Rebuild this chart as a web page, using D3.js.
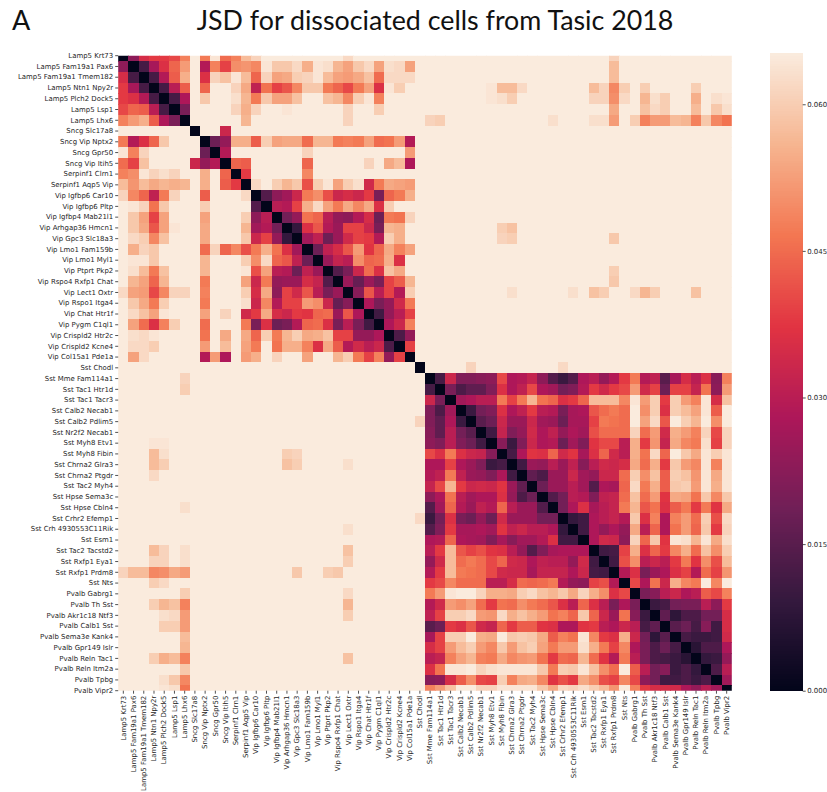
<!DOCTYPE html>
<html>
<head>
<meta charset="utf-8">
<script src="https://cdn.jsdelivr.net/npm/d3@7/dist/d3.min.js"></script>
<style>
html,body{margin:0;padding:0;background:#fff;}
svg{display:block;}
text{font-family:"DejaVu Sans",sans-serif;}
</style>
</head>
<body>
<svg id="chart" width="827" height="792"></svg>
<script>
const categories = ["Lamp5 Krt73","Lamp5 Fam19a1 Pax6","Lamp5 Fam19a1 Tmem182","Lamp5 Ntn1 Npy2r","Lamp5 Plch2 Dock5","Lamp5 Lsp1","Lamp5 Lhx6","Sncg Slc17a8","Sncg Vip Nptx2","Sncg Gpr50","Sncg Vip Itih5","Serpinf1 Clrn1","Serpinf1 Aqp5 Vip","Vip Igfbp6 Car10","Vip Igfbp6 Pltp","Vip Igfbp4 Mab21l1","Vip Arhgap36 Hmcn1","Vip Gpc3 Slc18a3","Vip Lmo1 Fam159b","Vip Lmo1 Myl1","Vip Ptprt Pkp2","Vip Rspo4 Rxfp1 Chat","Vip Lect1 Oxtr","Vip Rspo1 Itga4","Vip Chat Htr1f","Vip Pygm C1ql1","Vip Crispld2 Htr2c","Vip Crispld2 Kcne4","Vip Col15a1 Pde1a","Sst Chodl","Sst Mme Fam114a1","Sst Tac1 Htr1d","Sst Tac1 Tacr3","Sst Calb2 Necab1","Sst Calb2 Pdlim5","Sst Nr2f2 Necab1","Sst Myh8 Etv1 ","Sst Myh8 Fibin","Sst Chrna2 Glra3","Sst Chrna2 Ptgdr","Sst Tac2 Myh4","Sst Hpse Sema3c","Sst Hpse Cbln4","Sst Crhr2 Efemp1","Sst Crh 4930553C11Rik ","Sst Esm1","Sst Tac2 Tacstd2","Sst Rxfp1 Eya1","Sst Rxfp1 Prdm8","Sst Nts","Pvalb Gabrg1","Pvalb Th Sst","Pvalb Akr1c18 Ntf3","Pvalb Calb1 Sst","Pvalb Sema3e Kank4","Pvalb Gpr149 Islr","Pvalb Reln Tac1","Pvalb Reln Itm2a","Pvalb Tpbg","Pvalb Vipr2"];

// JSD x 1000. Upper triangle of the first 30 types, each row starts right after its diagonal.
const upperFirstBlock = [
[23,35,38,38,40,48,65,47,64,45,48,57,61,65,65,65,65,65,65,65,65,62,65,65,65,65,65,65,65],
[12,27,36,44,52,65,29,48,39,50,51,49,64,59,59,62,55,64,63,56,53,59,62,53,63,62,53,65],
[12,29,43,55,65,36,61,58,64,57,44,61,53,54,60,61,64,57,53,52,54,58,45,62,62,62,65],
[12,30,43,65,44,65,65,61,54,31,46,39,42,49,59,59,47,44,40,47,53,36,64,60,65,65],
[12,28,65,59,65,65,63,56,47,59,53,53,58,65,65,58,56,49,60,64,48,65,65,65,65],
[20,65,65,65,65,61,55,61,65,65,64,65,65,65,65,65,61,65,65,60,65,65,65,65],
[65,65,65,65,65,56,65,65,65,65,65,65,65,65,65,61,65,65,65,65,65,65,65],
[65,65,33,65,65,65,65,65,65,65,65,65,65,65,65,65,65,65,65,65,65,65],
[18,24,55,55,43,60,53,54,54,45,56,56,47,48,47,53,45,46,52,29,65],
[29,65,65,65,65,65,65,65,61,65,65,65,65,65,65,65,65,65,52,65],
[44,43,65,65,65,65,65,44,65,65,65,65,65,61,65,54,57,28,65],
[38,65,65,65,65,65,49,65,65,65,65,65,65,65,65,65,65,65],
[62,65,60,56,59,41,60,64,53,60,63,34,47,54,53,52,65],
[14,23,26,33,47,50,41,33,35,33,38,20,44,47,55,65],
[30,29,39,55,62,53,47,54,49,54,36,60,65,65,65],
[19,24,46,44,30,24,23,29,35,18,47,46,61,65],
[9,36,42,29,25,39,39,33,20,56,55,65,65],
[26,31,18,25,34,39,38,29,60,55,65,65],
[18,31,35,42,52,37,44,54,48,53,65],
[25,32,30,50,44,45,55,36,65,65],
[14,20,33,45,36,58,54,65,65],
[25,17,25,20,39,43,56,65],
[22,42,30,39,29,60,65],
[28,20,24,34,47,65],
[11,24,30,39,65],
[28,33,48,65],
[13,24,65],
[39,65],
[65]
];

// Same for the last 30 types (Sst Mme Fam114a1 onward).
const upperSecondBlock = [
[12,33,21,21,22,23,40,28,29,32,23,14,10,14,28,30,24,29,38,47,29,31,15,27,35,30,36,22,48],
[20,13,16,16,21,36,28,31,40,28,26,19,21,29,38,34,38,40,52,34,39,18,39,39,32,46,23,52],
[26,28,30,30,47,39,47,56,46,44,36,38,44,57,57,57,49,64,52,60,38,60,52,48,64,35,58],
[10,19,21,36,28,31,38,30,29,20,27,28,42,45,47,45,65,50,60,36,60,57,53,64,43,65],
[15,18,33,25,25,33,26,25,18,27,27,39,47,46,45,65,53,62,42,65,60,56,65,50,65],
[11,32,21,24,34,28,31,24,28,26,41,45,45,45,61,45,52,34,55,52,48,61,40,61],
[22,10,21,33,28,29,18,26,21,37,40,40,30,55,38,51,32,54,49,47,63,39,61],
[12,28,37,36,44,34,37,27,36,44,34,30,55,46,62,44,65,59,54,64,60,64],
[11,25,24,30,25,31,22,30,34,33,35,54,45,55,38,59,52,49,64,48,64],
[16,13,25,25,33,26,24,33,33,45,60,50,58,43,60,58,51,64,54,64],
[18,25,25,30,26,14,28,27,44,62,47,55,43,59,60,52,64,55,64],
[14,19,30,29,21,31,32,45,58,45,52,37,54,53,46,59,49,59],
[19,28,36,27,30,32,47,56,42,46,36,43,47,38,47,37,54],
[9,11,28,30,32,29,59,36,48,28,48,52,45,60,41,62],
[11,28,24,28,24,54,30,44,28,46,52,44,59,38,61],
[28,34,33,23,61,44,59,37,64,63,56,64,54,63],
[11,12,39,55,36,44,38,49,55,45,58,50,60],
[11,41,50,30,33,30,38,47,37,50,41,57],
[29,36,20,25,28,36,39,29,45,39,51],
[40,28,46,33,55,49,47,65,49,65],
[20,22,30,33,28,30,43,40,48],
[10,12,19,20,20,30,23,38],
[16,8,13,13,19,19,35],
[15,18,12,22,11,35],
[12,10,10,11,34],
[7,13,13,28],
[9,10,24],
[13,30],
[26]
];

// Between the two blocks almost everything sits at the top of the scale; the exceptions:
const crossFrom = [29,29,30,31,36,36,37,37,38,38,39,42,46,46,46,47,47,47,48,48,48,48,48,48,48,49,49,50,51,51,51,51,52,52,52,53,53,53,54,55,56,56,56,56,57,58,58,58,59,59,59,37,37,38,38,38,44,46,47,48,48,48,51,56,22,22,22,22];
const crossTo   = [34,43,6,6,3,4,3,4,3,4,3,6,3,4,6,3,4,6,0,1,2,3,4,5,6,3,4,6,3,4,5,6,4,5,6,4,5,6,6,6,3,4,5,6,6,4,5,6,4,5,6,16,17,16,17,22,22,22,22,17,20,21,22,22,50,44,38,52];
const crossVal  = [61,62,61,60,64,64,57,63,57,60,62,63,57,61,63,61,61,63,61,57,57,49,50,54,52,60,62,60,60,56,58,48,63,62,52,60,60,52,57,56,60,55,57,48,59,63,59,49,64,63,46,60,61,58,60,64,63,58,60,59,60,59,56,58,62,63,63,60];

const saturated = 65;
const tickValues = [0, 0.015, 0.03, 0.045, 0.06];
const rocketStops = ["#03051a","#35193e","#701f57","#ad1759","#e13342","#f37651","#f6b48f","#faebdd"];
const titleText = "JSD for dissociated cells from Tasic 2018";
const panelText = "A";

const n = categories.length;
const matrix = d3.range(n).map(i => d3.range(n).map(j => i === j ? 0 : saturated));
upperFirstBlock.forEach((row, i) => row.forEach((v, k) => {
  const j = i + 1 + k;
  matrix[i][j] = v; matrix[j][i] = v;
}));
upperSecondBlock.forEach((row, i) => row.forEach((v, k) => {
  const a = 30 + i, b = a + 1 + k;
  matrix[a][b] = v; matrix[b][a] = v;
}));
crossFrom.forEach((a, i) => {
  matrix[a][crossTo[i]] = crossVal[i]; matrix[crossTo[i]][a] = crossVal[i];
});
const cells = [];
matrix.forEach((row, i) => row.forEach((v, j) => cells.push({i, j, v: v / 1000})));

const L = 118.2, R = 731.8, T = 55.7, B = 690.7;
const vmax = 0.06497;
const svg = d3.select("#chart");

const x = d3.scaleBand().domain(d3.range(n)).range([L, R]).paddingInner(0).paddingOuter(0);
const rowStep = (B - T) / (n - 1);
const y = d3.scaleBand().domain(d3.range(n)).range([T - rowStep / 2, B + rowStep / 2]);
const color = d3.scaleLinear()
  .domain(rocketStops.map((_, i) => vmax * i / (rocketStops.length - 1)))
  .range(rocketStops).interpolate(d3.interpolateRgb).clamp(true);

svg.append("defs").append("clipPath").attr("id", "plot")
  .append("rect").attr("x", L).attr("y", T).attr("width", R - L).attr("height", B - T);

svg.append("g").attr("clip-path", "url(#plot)").attr("shape-rendering", "crispEdges")
  .selectAll("rect").data(cells).join("rect")
  .attr("x", d => x(d.j)).attr("y", d => y(d.i))
  .attr("width", x.bandwidth() + 0.5).attr("height", y.bandwidth() + 0.5)
  .attr("fill", d => color(d.v));

const labelFont = 6.95, labelColor = "#262626";
function styleAxis(g){
  g.select(".domain").remove();
  g.selectAll(".tick line").attr("stroke", "#262626").attr("stroke-width", 0.8);
  g.selectAll(".tick text").attr("fill", labelColor).attr("font-size", labelFont)
    .attr("font-family", '"DejaVu Sans",sans-serif');
}
const yAxis = d3.axisLeft(y).tickFormat(i => categories[i]).tickSize(3).tickPadding(2);
svg.append("g").attr("transform", `translate(${L},0)`).call(yAxis).call(styleAxis);

const xAxis = d3.axisBottom(x).tickFormat(i => categories[i]).tickSize(3).tickPadding(2);
svg.append("g").attr("transform", `translate(0,${B})`).call(xAxis).call(styleAxis)
  .selectAll(".tick text")
  .attr("transform", "rotate(-90)")
  .attr("text-anchor", "end")
  .attr("dy", "0.32em")
  .attr("x", -5).attr("y", 0);

// colourbar
const cbL = 770, cbR = 802.7;
const cy = d3.scaleLinear().domain([0, vmax]).range([B, T]);
const cbSteps = d3.range(0, 256).map(i => vmax * i / 255);
svg.append("g").attr("shape-rendering", "crispEdges").selectAll("rect").data(cbSteps).join("rect")
  .attr("x", cbL).attr("width", cbR - cbL)
  .attr("y", d => cy(d) - (B - T) / 255).attr("height", (B - T) / 255 + 0.6)
  .attr("fill", d => color(d));
svg.append("g").attr("transform", `translate(${cbR},0)`)
  .call(d3.axisRight(cy).tickValues(tickValues).tickFormat(d3.format(".3f")).tickSize(3).tickPadding(1.5))
  .call(styleAxis);

// title and panel letter
svg.append("text").attr("x", 435).attr("y", 30).attr("text-anchor", "middle")
  .attr("font-size", 26.8).attr("fill", "#111")
  .style("font-family", '"Lato",sans-serif').text(titleText);
svg.append("text").attr("x", 12).attr("y", 30)
  .attr("font-size", 27).attr("fill", "#111")
  .style("font-family", '"Lato",sans-serif').text(panelText);
</script>
</body>
</html>
